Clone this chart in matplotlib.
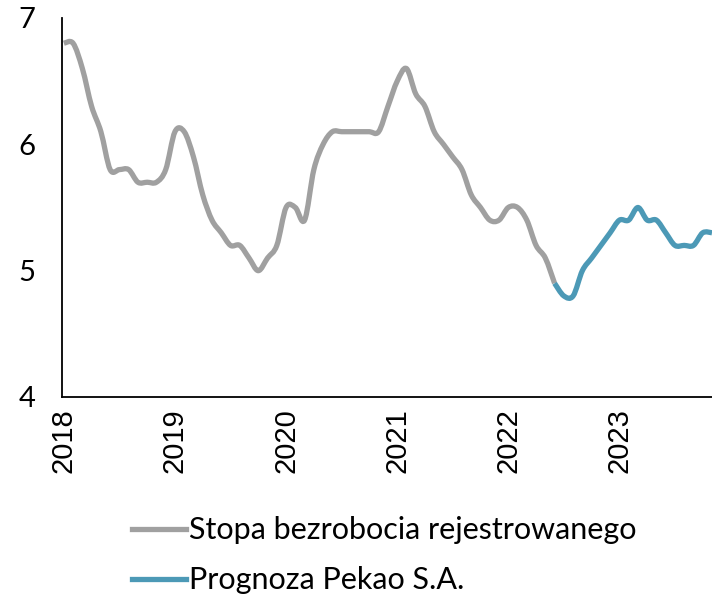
import numpy as np
import matplotlib
matplotlib.use('Agg')
import matplotlib.pyplot as plt
from matplotlib.path import Path
from matplotlib.patches import PathPatch
from matplotlib.lines import Line2D

# monthly registered unemployment rate, Jan 2018 - Jun 2022
years = ['2018', '2019', '2020', '2021', '2022', '2023']
actual = [6.8, 6.8, 6.6, 6.3, 6.1, 5.8, 5.8, 5.8, 5.7, 5.7, 5.7, 5.8,
          6.1, 6.1, 5.9, 5.6, 5.4, 5.3, 5.2, 5.2, 5.1, 5.0, 5.1, 5.2,
          5.5, 5.5, 5.4, 5.8, 6.0, 6.1, 6.1, 6.1, 6.1, 6.1, 6.1, 6.3,
          6.5, 6.6, 6.4, 6.3, 6.1, 6.0, 5.9, 5.8, 5.6, 5.5, 5.4, 5.4,
          5.5, 5.5, 5.4, 5.2, 5.1, 4.9]
# forecast, Jun 2022 - Nov 2023
forecast = [4.9, 4.8, 4.8, 5.0, 5.1, 5.2, 5.3,
            5.4, 5.4, 5.5, 5.4, 5.4, 5.3, 5.2, 5.2, 5.2, 5.3, 5.3]
labels = ['Stopa bezrobocia rejestrowanego', 'Prognoza Pekao S.A.']
colors = ['#a0a0a0', '#4c99b6']


def smooth_path(x, y):
    # excel-like smoothed line drawn as cubic bezier through the points
    pts = np.column_stack([x, y])
    n = len(pts)
    verts = [pts[0]]
    codes = [Path.MOVETO]
    for i in range(n - 1):
        p0 = pts[max(i - 1, 0)]
        p1 = pts[i]
        p2 = pts[i + 1]
        p3 = pts[min(i + 2, n - 1)]
        verts += [p1 + (p2 - p0) / 6, p2 - (p3 - p1) / 6, p2]
        codes += [Path.CURVE4] * 3
    return Path(verts, codes)


fig = plt.figure(figsize=(7.12, 5.95), dpi=100)
ax = fig.add_axes([62 / 712, 1 - 397 / 595, 1 - 62 / 712, (397 - 18) / 595])

x_act = np.arange(len(actual))
x_fc = np.arange(len(actual) - 1, len(actual) - 1 + len(forecast))
for xs, ys, c in [(x_act, actual, colors[0]), (x_fc, forecast, colors[1])]:
    ax.add_patch(PathPatch(smooth_path(xs, ys), fill=False, edgecolor=c,
                           lw=3.8, joinstyle='round', capstyle='butt'))

ax.set_xlim(-0.2, x_fc[-1])
ax.set_ylim(4, 7)
ax.set_yticks([4, 5, 6, 7])
ax.set_xticks(np.arange(len(years)) * 12)
ax.set_xticklabels(years, rotation=90, fontsize=21, family='Liberation Sans')
for t in ax.get_yticklabels():
    t.set_fontfamily('Lato')
    t.set_fontsize(21)
ax.tick_params(axis='both', length=0)
ax.tick_params(axis='y', pad=19)
ax.tick_params(axis='x', pad=8)
for s in ['top', 'right']:
    ax.spines[s].set_visible(False)
for s in ['left', 'bottom']:
    ax.spines[s].set_linewidth(1.3)
    ax.spines[s].set_color('black')

handles = [Line2D([], [], color=c, lw=3.8) for c in colors]
fig.legend(handles, labels, loc='upper left', bbox_to_anchor=(120 / 712, 1 - 504 / 595),
           frameon=False, prop={'family': 'Lato', 'size': 22},
           handlelength=1.75, handletextpad=0.12, labelspacing=0.72, borderaxespad=0)

fig.savefig('out.png', dpi=100)
